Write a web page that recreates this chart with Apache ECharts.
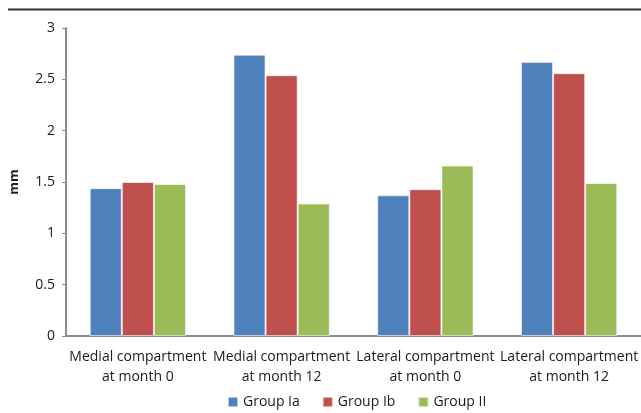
<!DOCTYPE html>
<html>
<head>
<meta charset="utf-8">
<script src="https://cdn.jsdelivr.net/npm/echarts@6/dist/echarts.min.js"></script>
<style>
  html, body { margin: 0; padding: 0; background: #fff; }
  #chart { width: 641px; height: 413px; }
</style>
</head>
<body>
<div id="chart"></div>
<script>
// Joint space width per compartment and time point (mm)
const categories = [
  'Medial compartment\nat month 0',
  'Medial compartment\nat month 12',
  'Lateral compartment\nat month 0',
  'Lateral compartment\nat month 12'
];
const groupIa = [1.44, 2.74, 1.37, 2.67];
const groupIb = [1.50, 2.54, 1.43, 2.56];
const groupII = [1.48, 1.29, 1.66, 1.49];
const seriesNames = ['Group Ia', 'Group Ib', 'Group II'];
const seriesColors = ['#4F81BD', '#C0504D', '#9BBB59'];
const yTicks = { min: 0, max: 3, interval: 0.5 };

const font = 'Open Sans';
const axisGray = '#8c8c8c';
const textColor = '#1a1a1a';

function barSeries(name, data, color) {
  return {
    name: name,
    type: 'bar',
    data: data,
    barGap: '0%',
    barCategoryGap: '33%',
    itemStyle: { color: color, borderColor: 'rgba(255,255,255,0.6)', borderWidth: 1 }
  };
}

const chart = echarts.init(document.getElementById('chart'), null, { renderer: 'canvas' });
chart.setOption({
  animation: false,
  textStyle: { fontFamily: font },
  graphic: [{
    type: 'line',
    shape: { x1: 8, y1: 9.5, x2: 641, y2: 9.5 },
    style: { stroke: '#333', lineWidth: 2 }
  }],
  grid: { left: 60, right: 0, top: 28, bottom: 77, containLabel: false },
  legend: {
    top: 395,
    left: 227,
    padding: 0,
    itemWidth: 10,
    itemHeight: 10,
    itemGap: 22,
    icon: 'rect',
    textStyle: { fontFamily: font, fontSize: 14, color: textColor },
    data: seriesNames
  },
  xAxis: {
    type: 'category',
    data: categories,
    axisLine: { lineStyle: { color: axisGray, width: 2 } },
    axisTick: { show: false },
    axisLabel: { fontFamily: font, fontSize: 14, color: textColor, lineHeight: 20, margin: 11, interval: 0 }
  },
  yAxis: {
    type: 'value',
    min: yTicks.min,
    max: yTicks.max,
    interval: yTicks.interval,
    name: 'mm',
    nameLocation: 'middle',
    nameRotate: 90,
    nameGap: 45,
    nameTextStyle: { fontFamily: font, fontSize: 13, fontWeight: 'bold', color: textColor },
    axisLine: { show: true, lineStyle: { color: axisGray, width: 2 } },
    axisTick: { show: true, length: 4, lineStyle: { color: axisGray, width: 1 } },
    splitLine: { show: false },
    axisLabel: { fontFamily: font, fontSize: 14, color: textColor, margin: 11 }
  },
  series: [
    barSeries(seriesNames[0], groupIa, seriesColors[0]),
    barSeries(seriesNames[1], groupIb, seriesColors[1]),
    barSeries(seriesNames[2], groupII, seriesColors[2])
  ]
});
</script>
</body>
</html>
